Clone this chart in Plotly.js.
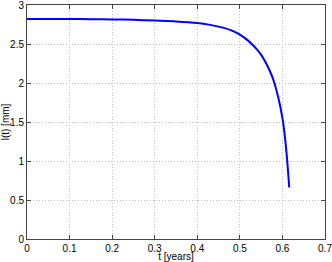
<!DOCTYPE html>
<html><head><meta charset="utf-8">
<script src="https://cdn.plot.ly/plotly-3.0.1.min.js"></script>
<style>html,body{margin:0;padding:0;background:#fff}#c{width:332px;height:262px}</style>
</head><body><div id="c"></div>
<script>
const tYears = [0, 0.05, 0.1, 0.15, 0.2, 0.25, 0.3, 0.35, 0.4, 0.43, 0.46, 0.48, 0.5, 0.52, 0.54, 0.55, 0.56, 0.57, 0.58, 0.59, 0.6, 0.605, 0.61, 0.613, 0.616];
const lMm = [2.82, 2.82, 2.82, 2.818, 2.815, 2.81, 2.8, 2.79, 2.77, 2.745, 2.71, 2.675, 2.62, 2.54, 2.43, 2.36, 2.27, 2.16, 2.02, 1.82, 1.55, 1.35, 1.08, 0.88, 0.66];
const xTicks = [0, 0.1, 0.2, 0.3, 0.4, 0.5, 0.6, 0.7];
const yTicks = [0, 0.5, 1, 1.5, 2, 2.5, 3];

const font = {family: 'Liberation Sans, Arial, sans-serif', size: 10, color: '#000'};
const axisCommon = {
  showline: true, linecolor: '#444', linewidth: 1, mirror: 'allticks',
  ticks: 'inside', ticklen: 4, tickcolor: '#444',
  showgrid: true, gridcolor: '#bdbdbd', griddash: '1px,2px', gridwidth: 1,
  zeroline: false, tickfont: font, ticklabeloverflow: 'allow'
};
Plotly.newPlot('c', [{
  x: tYears, y: lMm, type: 'scatter', mode: 'lines',
  line: {color: '#0000ff', width: 2, shape: 'spline', smoothing: 0.6}
}], {
  width: 332, height: 262,
  margin: {l: 27, r: 7, t: 5, b: 23},
  paper_bgcolor: '#fff', plot_bgcolor: '#fff',
  showlegend: false, font: font,
  xaxis: Object.assign({}, axisCommon, {range: [0, 0.7], tickvals: xTicks, ticktext: xTicks.map(String),
    title: {text: 't [years]', font: font, standoff: 3}}),
  yaxis: Object.assign({}, axisCommon, {range: [0, 3], tickvals: yTicks, ticktext: yTicks.map(String),
    title: {text: 'l(t) [mm]', font: font, standoff: 5}})
}, {displayModeBar: false, staticPlot: true});
</script></body></html>
